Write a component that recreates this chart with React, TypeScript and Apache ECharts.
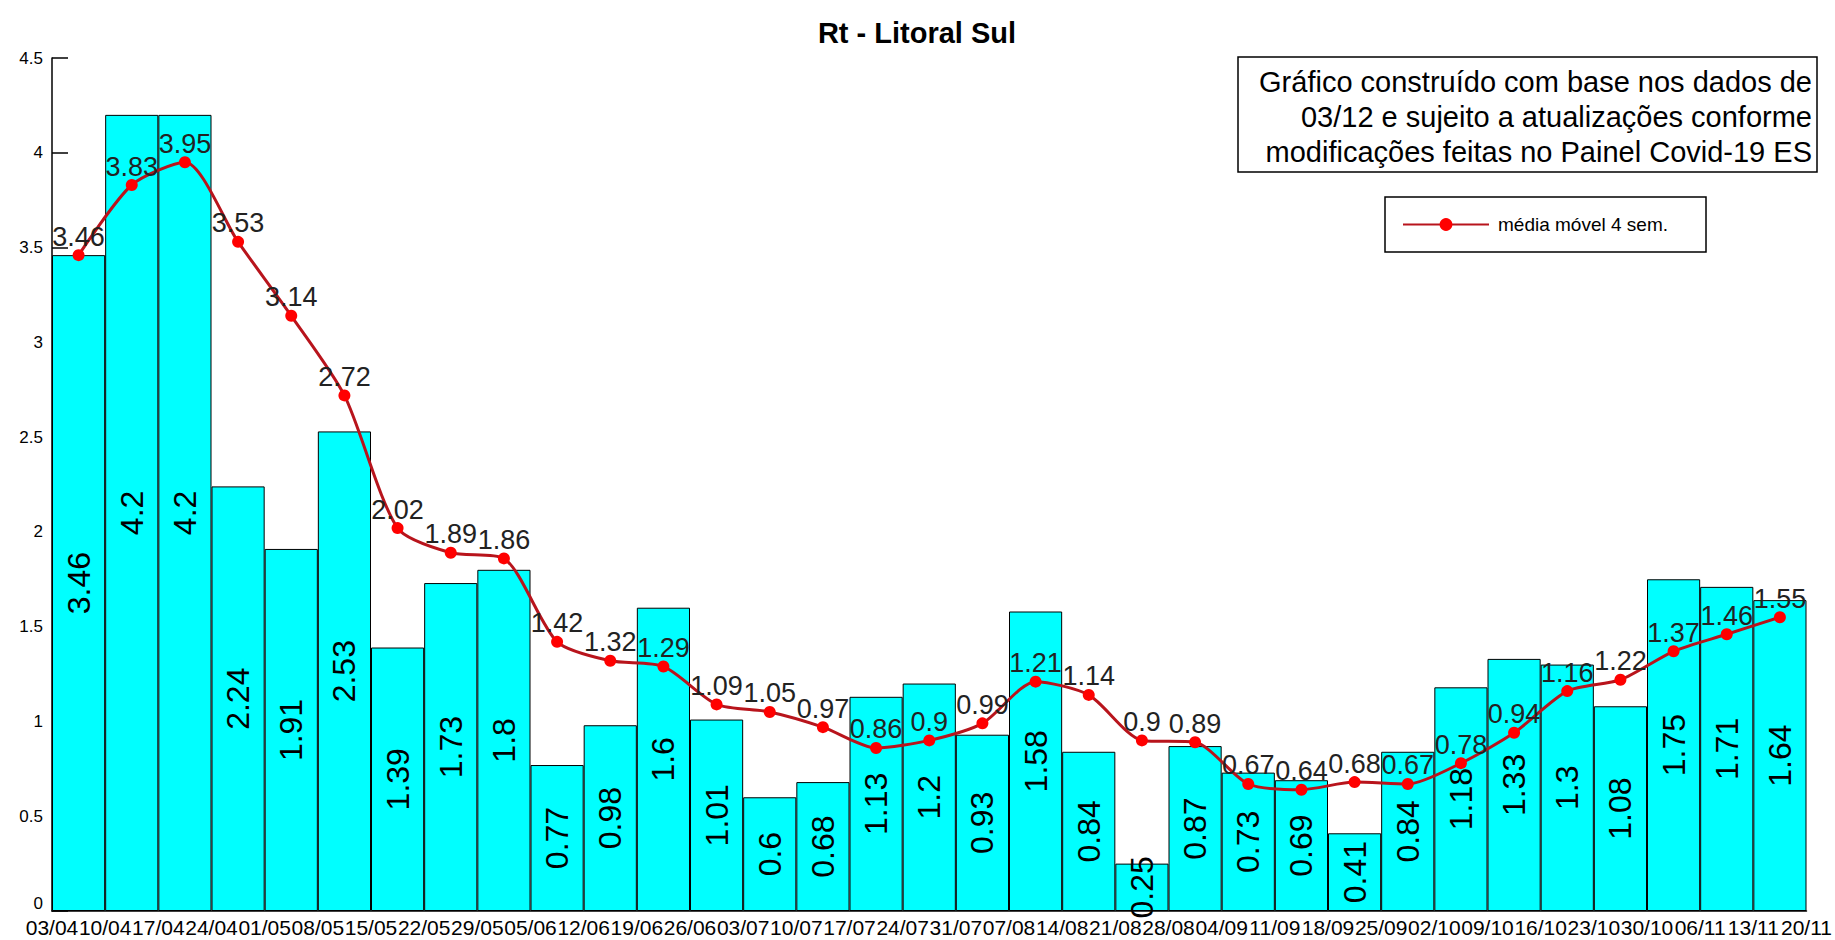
import React, { useEffect, useRef } from "react";
import * as echarts from "echarts";

const categories = [
  "03/04", "10/04", "17/04", "24/04", "01/05", "08/05", "15/05", "22/05", "29/05",
  "05/06", "12/06", "19/06", "26/06", "03/07", "10/07", "17/07", "24/07", "31/07",
  "07/08", "14/08", "21/08", "28/08", "04/09", "11/09", "18/09", "25/09", "02/10",
  "09/10", "16/10", "23/10", "30/10", "06/11", "13/11",
];

const tickLabels = [
  "03/04", "10/04", "17/04", "24/04", "01/05", "08/05", "15/05", "22/05", "29/05",
  "05/06", "12/06", "19/06", "26/06", "03/07", "10/07", "17/07", "24/07", "31/07",
  "07/08", "14/08", "21/08", "28/08", "04/09", "11/09", "18/09", "25/09", "02/10",
  "09/10", "16/10", "23/10", "30/10", "06/11", "13/11", "20/11",
];

const rtValues = [
  3.46, 4.2, 4.2, 2.24, 1.91, 2.53, 1.39, 1.73, 1.8, 0.77, 0.98, 1.6, 1.01, 0.6, 0.68,
  1.13, 1.2, 0.93, 1.58, 0.84, 0.25, 0.87, 0.73, 0.69, 0.41, 0.84, 1.18, 1.33, 1.3,
  1.08, 1.75, 1.71, 1.64,
];

const movingAvg = [
  3.46, 3.83, 3.95, 3.53, 3.14, 2.72, 2.02, 1.89, 1.86, 1.42, 1.32, 1.29, 1.09, 1.05,
  0.97, 0.86, 0.9, 0.99, 1.21, 1.14, 0.9, 0.89, 0.67, 0.64, 0.68, 0.67, 0.78, 0.94,
  1.16, 1.22, 1.37, 1.46, 1.55,
];

const titleText = "Rt - Litoral Sul";
const noteLines = [
  "Gráfico construído com base nos dados de",
  "03/12 e sujeito a atualizações conforme",
  "modificações feitas no Painel Covid-19 ES",
];
const seriesName = "média móvel 4 sem.";

const FONT = "'Liberation Sans', Arial, sans-serif";

export default function App() {
  const ref = useRef<HTMLDivElement>(null);

  useEffect(() => {
    if (!ref.current) return;
    const chart = echarts.init(ref.current, null, { renderer: "svg" });
    chart.setOption({
      animation: false,
      backgroundColor: "#ffffff",
      textStyle: { fontFamily: FONT },
      title: {
        text: titleText,
        left: 912,
        top: 13,
        textAlign: "center",
        textStyle: { fontSize: 29, fontWeight: "bold", color: "#000", fontFamily: FONT },
      },
      legend: {
        data: [seriesName],
        left: 1385,
        top: 197,
        orient: "horizontal",
        itemWidth: 86,
        itemHeight: 16,
        padding: [18, 38, 18, 17],
        borderColor: "#000",
        borderWidth: 1.5,
        backgroundColor: "#fff",
        textStyle: { fontSize: 19, color: "#000", fontFamily: FONT, padding: [0, 0, 0, 4] },
      },
      grid: { left: 52, right: 24, top: 58, bottom: 29, containLabel: false },
      xAxis: [
        {
          type: "category",
          data: categories,
          boundaryGap: true,
          axisLine: { show: true, lineStyle: { color: "#000", width: 1.5 } },
          axisTick: { show: false },
          axisLabel: { show: false },
          splitLine: { show: false },
        },
        {
          type: "value",
          min: 0,
          max: 33,
          interval: 1,
          position: "bottom",
          axisLine: { show: false },
          axisTick: { show: false },
          splitLine: { show: false },
          axisLabel: {
            show: true,
            showMinLabel: true,
            showMaxLabel: true,
            fontSize: 21,
            color: "#000",
            fontFamily: FONT,
            margin: 6,
            formatter: (v: number) => tickLabels[Math.round(v)] ?? "",
          },
        },
      ],
      yAxis: {
        type: "value",
        min: 0,
        max: 4.5,
        interval: 0.5,
        axisLine: { show: true, lineStyle: { color: "#000", width: 1.5 } },
        axisTick: { show: true, inside: true, length: 16, lineStyle: { color: "#000", width: 1.5 } },
        axisLabel: {
          fontSize: 17,
          color: "#000",
          margin: 9,
          fontFamily: FONT,
          formatter: (v: number) => (v === 0 ? "{z|0}" : String(v)),
          rich: {
            z: { fontSize: 17, color: "#000", fontFamily: FONT, lineHeight: 17, padding: [0, 0, 16, 0] },
          },
        },
        splitLine: { show: false },
      },
      graphic: [
        {
          type: "rect",
          shape: { x: 1238, y: 57, width: 579, height: 115 },
          style: { fill: "#fff", stroke: "#000", lineWidth: 1.5 },
          z: 10,
        },
        {
          type: "text",
          x: 1812,
          y: 64,
          z: 11,
          style: {
            text: noteLines.join("\n"),
            align: "right",
            verticalAlign: "top",
            font: `29px ${FONT}`,
            lineHeight: 35,
            fill: "#000",
          },
        },
      ],
      series: [
        {
          name: "Rt",
          type: "bar",
          xAxisIndex: 0,
          data: rtValues,
          barCategoryGap: "0%",
          itemStyle: { color: "#00FFFF", borderColor: "#000", borderWidth: 1 },
          label: {
            show: true,
            position: "inside",
            rotate: 90,
            fontSize: 32,
            color: "#000",
            fontFamily: FONT,
          },
          z: 2,
        },
        {
          name: seriesName,
          type: "line",
          xAxisIndex: 0,
          data: movingAvg,
          smooth: 0.25,
          symbol: "circle",
          symbolSize: 12,
          lineStyle: { color: "#B8141C", width: 3 },
          itemStyle: { color: "#FF0000" },
          label: {
            show: true,
            position: "top",
            distance: -1,
            fontSize: 27,
            color: "#222",
            fontFamily: FONT,
          },
          z: 5,
        },
      ],
    });
    return () => chart.dispose();
  }, []);

  return (
    <div
      ref={ref}
      style={{ position: "fixed", left: 0, top: 0, width: 1835, height: 940, background: "#fff" }}
    />
  );
}
